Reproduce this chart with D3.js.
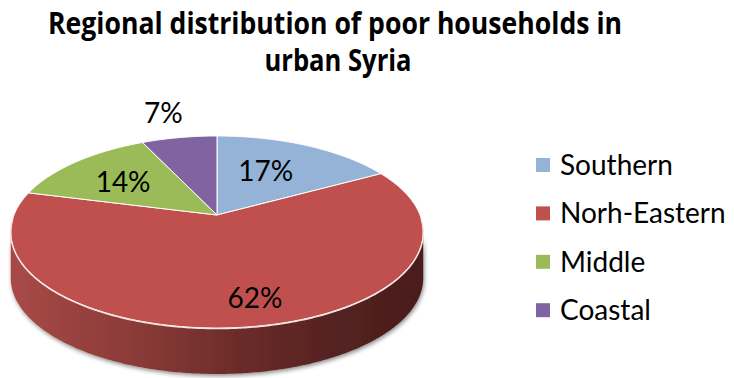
<!DOCTYPE html>
<html>
<head>
<meta charset="utf-8">
<script src="https://cdn.jsdelivr.net/npm/d3@7"></script>
<style>
  html, body { margin: 0; padding: 0; background: #fff; }
  svg { display: block; }
</style>
</head>
<body>
<svg id="chart" width="734" height="378"></svg>
<script>
// Regional shares of poor urban households (percent)
const regions = ["Southern", "Norh-Eastern", "Middle", "Coastal"];
const shares = [17, 62, 14, 7];
const colors = ["#95b3d7", "#c0504d", "#9bbb59", "#8064a2"];
const titleLines = ["Regional distribution of poor households in", "urban Syria"];

const svg = d3.select("#chart");

// Tilted-disc projection with mild perspective
const cx = 217, cy = 215;      // projected centre of the disc
const R = 203, S = 93;          // horizontal / vertical radii
const k = 0.177;                // perspective strength (far side shrinks)
const depth = 46;               // pie thickness in px

// theta: radians clockwise from 12 o'clock; r: radius fraction
function project(theta, r) {
  const u = r * Math.sin(theta), v = r * Math.cos(theta);
  const w = 1 + k * v;
  return [cx + R * u / w, cy - S * v / w];
}

const pie = d3.pie().value(d => d).sort(null)
  .startAngle(0).endAngle(2 * Math.PI);
const arcs = pie(shares);

const defs = svg.append("defs");

// Side wall gradient (lit from the left)
const grad = defs.append("linearGradient")
  .attr("id", "sideGrad").attr("gradientUnits", "userSpaceOnUse")
  .attr("x1", cx - R * 1.02).attr("x2", cx + R * 1.02).attr("y1", 0).attr("y2", 0);
[[0, "#a84a47"], [0.3, "#8a3b38"], [0.55, "#6c2c2a"], [0.8, "#532120"], [1, "#4b1d1c"]]
  .forEach(([o, c]) => grad.append("stop").attr("offset", o).attr("stop-color", c));

// Soft shadow beneath the pie
const shadow = defs.append("filter").attr("id", "shadow")
  .attr("x", "-10%").attr("y", "-10%").attr("width", "120%").attr("height", "130%");
shadow.append("feGaussianBlur").attr("in", "SourceAlpha").attr("stdDeviation", 2.2).attr("result", "b");
shadow.append("feOffset").attr("in", "b").attr("dx", 1).attr("dy", 2).attr("result", "o");
shadow.append("feComponentTransfer").attr("in", "o").attr("result", "s")
  .append("feFuncA").attr("type", "linear").attr("slope", 0.45);
const merge = shadow.append("feMerge");
merge.append("feMergeNode").attr("in", "s");
merge.append("feMergeNode").attr("in", "SourceGraphic");

const line = d3.line();
function arcPoints(a0, a1, r, dy) {
  const n = Math.max(8, Math.ceil(Math.abs(a1 - a0) / 0.01));
  return d3.range(n + 1).map(i => {
    const p = project(a0 + (a1 - a0) * i / n, r);
    return [p[0], p[1] + (dy || 0)];
  });
}

// Visible front side wall: between the silhouette tangent points
const tA = Math.acos(-k), tB = 2 * Math.PI - Math.acos(-k);
const gSide = svg.append("g");
arcs.forEach((a, i) => {
  const s0 = Math.max(a.startAngle, tA), s1 = Math.min(a.endAngle, tB);
  if (s1 <= s0) return;
  const top = arcPoints(s0, s1, 1, 0);
  const bot = arcPoints(s0, s1, 1, depth).reverse();
  gSide.append("path")
    .attr("d", line(top.concat(bot)) + "Z")
    .attr("fill", i === 1 ? "url(#sideGrad)" : d3.color(colors[i]).darker(1.2))
    .attr("filter", "url(#shadow)");
});

// Top face slices
const gTop = svg.append("g");
arcs.forEach((a, i) => {
  const pts = [[cx, cy]].concat(arcPoints(a.startAngle, a.endAngle, 1, 0));
  gTop.append("path")
    .attr("d", line(pts) + "Z")
    .attr("fill", colors[i])
    .attr("stroke", "#ffffff")
    .attr("stroke-width", 1)
    .attr("stroke-linejoin", "round");
});
// Light rim along the front edge of the top face
gTop.append("path")
  .attr("d", line(arcPoints(tA - 0.15, tB + 0.15, 1, 0.6)))
  .attr("fill", "none").attr("stroke", "#f5e6e5").attr("stroke-width", 1.4);

// Percentage labels at each slice's mid-angle
const labelRadius = [0.6, 0.6, 0.6, 1.39];
const labelNudge = [[-8, 0], [21, 21], [-6, 0], [-4, 0]];
const gLab = svg.append("g")
  .attr("font-family", "Lato, 'Open Sans', sans-serif")
  .attr("font-size", 28).attr("fill", "#000").attr("text-anchor", "middle");
arcs.forEach((a, i) => {
  const mid = (a.startAngle + a.endAngle) / 2;
  const p = project(mid, labelRadius[i]);
  gLab.append("text")
    .attr("x", p[0] + labelNudge[i][0])
    .attr("y", p[1] + labelNudge[i][1])
    .attr("dy", "0.36em")
    .text(shares[i] + "%");
});

// Legend
const legend = svg.append("g").attr("transform", "translate(536,175)");
regions.forEach((name, i) => {
  const row = legend.append("g").attr("transform", `translate(0,${i * 48.4})`);
  row.append("rect").attr("x", 0).attr("y", -17).attr("width", 14).attr("height", 14)
    .attr("fill", colors[i]);
  row.append("text").attr("x", 24).attr("y", 0)
    .attr("font-family", "Lato, 'Open Sans', sans-serif").attr("font-size", 28)
    .attr("fill", "#000").text(name);
});

// Title
const title = svg.append("g")
  .attr("font-family", "'Liberation Sans Narrow', 'Open Sans', sans-serif")
  .attr("font-weight", "bold").attr("font-size", 30)
  .attr("fill", "#000").attr("text-anchor", "middle");
title.append("text").attr("x", 335).attr("y", 34)
  .attr("textLength", 574).attr("lengthAdjust", "spacingAndGlyphs").text(titleLines[0]);
title.append("text").attr("x", 338).attr("y", 71)
  .attr("textLength", 147).attr("lengthAdjust", "spacingAndGlyphs").text(titleLines[1]);
</script>
</body>
</html>
